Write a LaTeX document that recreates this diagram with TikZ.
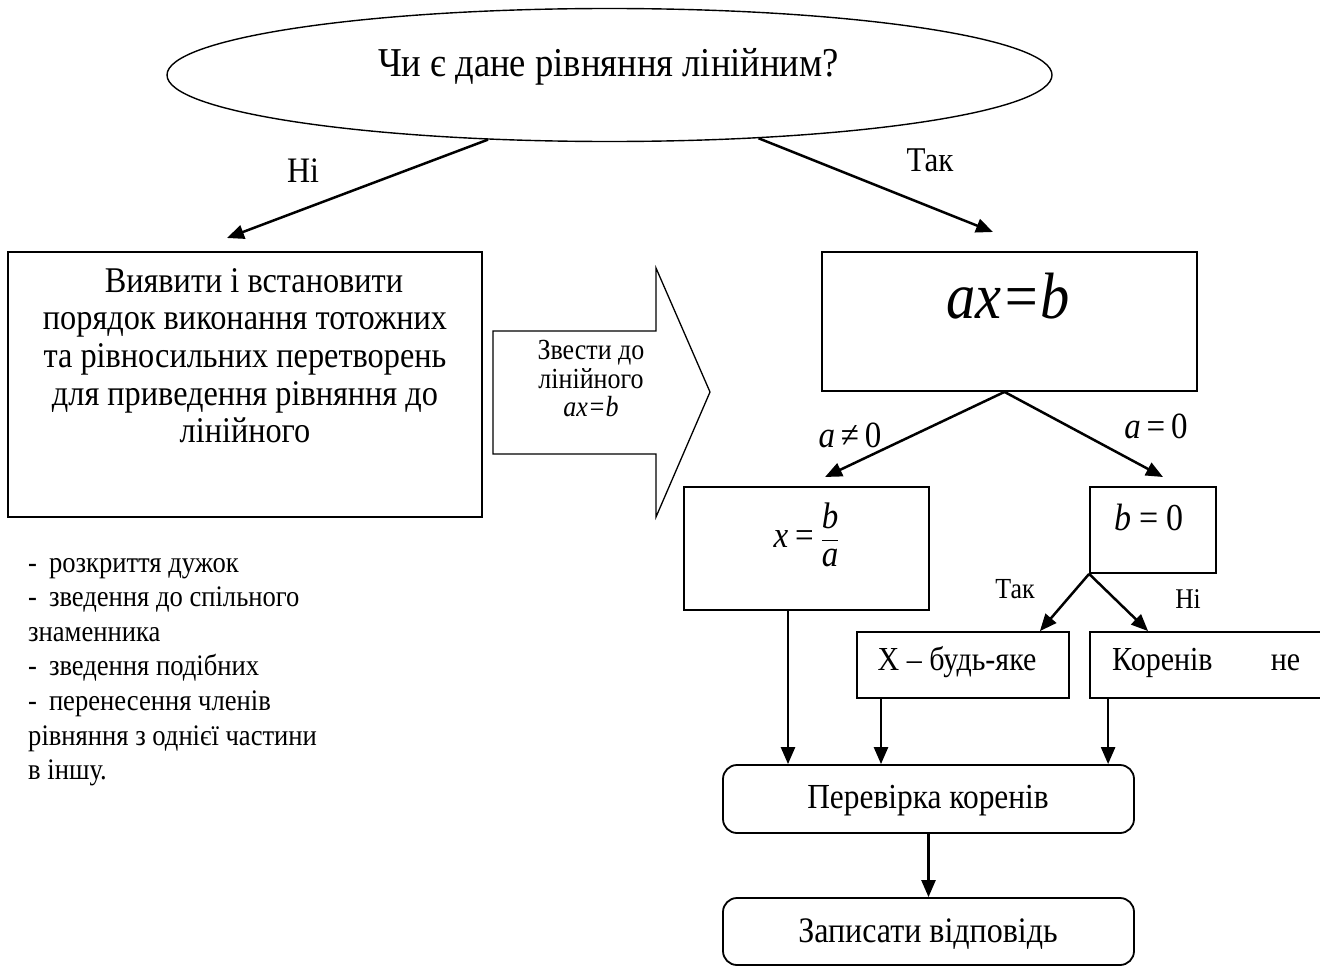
\documentclass[tikz,border=0pt]{standalone}
\usepackage{graphicx}
\usepackage{fontspec}
\setmainfont{Liberation Serif}
\usetikzlibrary{arrows.meta,shapes.geometric,calc}
\newcommand{\fsz}[1]{\fontsize{#1}{#1}\selectfont}
\newcommand{\vst}[1]{\scalebox{1}[1.12]{#1}}
\begin{document}
\begin{tikzpicture}[x=1pt,y=-1pt,
  box/.style={draw,line width=1.8pt,inner sep=0pt},
  rbox/.style={draw,line width=1.8pt,rounded corners=14pt,inner sep=0pt},
  arr/.style={line width=2.5pt,-{Triangle[length=17pt,width=14pt]}},
  lbl/.style={inner sep=0pt,anchor=base},
]
\useasboundingbox (0,0) rectangle (1320,966);
\clip (0,0) rectangle (1320,966);

% shapes
\node[draw,ellipse,line width=1.4pt,minimum width=885pt,minimum height=133pt,inner sep=0pt] (q) at (609.5,75) {};
\node[box,minimum width=474pt,minimum height=265pt] (lb) at (245,384.5) {};
\node[box,minimum width=375pt,minimum height=139pt] (axb) at (1009.5,321.5) {};
\node[box,minimum width=245pt,minimum height=123pt] (xba) at (806.5,548.5) {};
\node[box,minimum width=126pt,minimum height=86pt] (bz) at (1153,530) {};
\node[box,minimum width=212pt,minimum height=66pt] (xb) at (963,665) {};
\node[box,minimum width=245pt,minimum height=66pt] (kb) at (1212.5,665) {};
\node[rbox,minimum width=411pt,minimum height=68pt] (pk) at (928.5,799) {};
\node[rbox,minimum width=411pt,minimum height=67pt] (zv) at (928.5,931.5) {};

% block arrow
\draw[line width=1.3pt,line join=miter] (493,331) -- (656,331) -- (656,268) -- (710,392) -- (656,517) -- (656,454) -- (493,454) -- cycle;

% texts
\node[lbl,font=\fsz{36.6}] (tq) at (608.5,77) {\vst{Чи є дане рівняння лінійним?}};
\node[lbl,font=\fsz{32}] (tni) at (303,182) {\vst{Ні}};
\node[lbl,font=\fsz{31}] (ttak) at (930,171) {\vst{Так}};
\node[inner sep=0pt,font=\fontsize{32.3}{33.5}\selectfont] (tlb) at (245,360)
  {\vst{\begin{tabular}{@{}c@{}}\hspace*{18pt}Виявити і встановити\\порядок виконання тотожних\\та рівносильних перетворень\\для приведення рівняння до\\лінійного\end{tabular}}};
\node[inner sep=0pt,font=\fontsize{26}{25.4}\selectfont] (tarr) at (591,382.5)
  {\vst{\begin{tabular}{@{}c@{}}Звести до\\лінійного\\\textit{ax=b}\end{tabular}}};
\node[lbl,font=\fsz{58.5}] (taxb) at (1008,318) {\vst{\textit{ax=b}}};
\node[lbl,font=\fsz{33}] (tane) at (850,447) {\vst{\textit{a}\hspace{0.18em}≠\hspace{0.18em}0}};
\node[lbl,font=\fsz{33}] (taeq) at (1156,438) {\vst{\textit{a}\hspace{0.18em}=\hspace{0.18em}0}};
\node[lbl,font=\fsz{33}] (txba) at (806.5,547.5) {\vst{$\displaystyle\textit{x}\mathrel{\textrm{=}}\frac{\textit{b}}{\textit{a}}$}};
\node[lbl,font=\fsz{34}] (tbz) at (1149,530) {\vst{\textit{b}\hspace{0.22em}=\hspace{0.22em}0}};
\node[lbl,font=\fsz{26}] (ttak2) at (1015,598) {\vst{Так}};
\node[lbl,font=\fsz{25.5}] (tni2) at (1188,608) {\vst{Ні}};
\node[lbl,font=\fsz{30}] (txb) at (957,670) {\vst{X – будь-яке}};
\node[inner sep=0pt,anchor=base west,font=\fsz{30}] (tkb) at (1112,670) {\vst{\makebox[188pt]{Коренів\hfill не}}};
\node[lbl,font=\fsz{31.4}] (tpk) at (928,808) {\vst{Перевірка коренів}};
\node[lbl,font=\fsz{32}] (tzv) at (928,942) {\vst{Записати відповідь}};
\node[anchor=west,inner sep=0pt,font=\fontsize{26.6}{30.9}\selectfont] (tlist) at (28,669)
  {\vst{\begin{tabular}{@{}l@{}}-\hspace{0.45em}розкриття дужок\\-\hspace{0.45em}зведення до спільного\\знаменника\\-\hspace{0.45em}зведення подібних\\-\hspace{0.45em}перенесення членів\\рівняння з однієї частини\\в іншу.\end{tabular}}};

% connectors
\coordinate (tipNi) at (227,238);
\coordinate (tipTak) at (993,232);
\coordinate (tipL) at (825,477);
\coordinate (tipR) at (1163,477);
\draw[arr] (q.208.9) -- (tipNi);
\draw[arr] (q.337.4) -- (tipTak);
\draw[arr] ($(axb.south)+(-5,0)$) -- (tipL);
\draw[arr] ($(axb.south)+(-5,0)$) -- (tipR);
\draw[arr] (bz.south west) -- ($(xb.north east)+(-30,0)$);
\draw[arr] (bz.south west) -- ($(kb.north west)+(59,0)$);
\draw[arr] ($(xba.south)+(-18.5,0)$) coordinate (s1) -- (s1 |- pk.north);
\draw[arr] ($(xb.south)+(-82,0)$) coordinate (s2) -- (s2 |- pk.north);
\draw[arr] ($(kb.south west)+(19,0)$) coordinate (s3) -- (s3 |- pk.north);
\draw[arr] (pk.south) -- (zv.north);
\end{tikzpicture}
\end{document}
